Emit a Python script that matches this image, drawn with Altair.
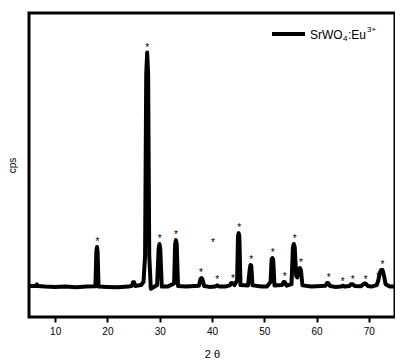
import altair as alt
import pandas as pd

two_theta = [5, 6.3, 6.5, 6.7, 8, 10, 12, 14, 16, 17.7,
             17.88, 18.0, 18.12, 18.3,
             20, 22, 24, 24.7, 24.9, 25.1, 25.3,
             26.4, 26.9, 27.2, 27.42, 27.6, 27.78, 28.0, 28.3, 28.8,
             29.5, 29.8, 29.95, 30.1, 30.4,
             31.5, 32.75, 32.95, 33.1, 33.25, 33.5,
             35, 37.5, 37.8, 38.0, 38.2, 38.5,
             39.5, 40.6, 41.0, 41.4, 42.5, 43.4, 43.7, 43.9, 44.3,
             44.8, 44.97, 45.1, 45.23, 45.45,
             46.9, 47.2, 47.35, 47.5, 47.75,
             49.5, 50.5, 51.2, 51.4, 51.55, 51.7, 51.95,
             53.4, 53.7, 53.9, 54.3,
             55.2, 55.48, 55.65, 55.82, 56.1, 56.3, 56.6, 56.8, 57.0, 57.3,
             59, 61.7, 62.0, 62.2, 62.6, 63.5, 64.7, 65.0, 65.4,
             66.3, 66.6, 66.9, 67.3, 68.5, 69.1, 69.4, 69.8, 70.5,
             71.5, 71.8, 72.1, 72.35, 72.6, 72.85, 73.2, 74, 75]
intensity = [10.2, 10.2, 10.7, 10.2, 10.0, 9.9, 10.0, 9.8, 10.0, 10.1,
             21.5, 23.0, 21.5, 10.0,
             9.9, 9.8, 10.0, 10.3, 11.4, 11.4, 10.2,
             10.5, 11.5, 20.0, 80.0, 87.0, 80.0, 20.0, 9.3, 9.8,
             10.5, 22.5, 24.0, 22.5, 10.0,
             10.0, 11.0, 24.0, 25.3, 24.0, 10.2,
             10.0, 10.3, 12.5, 12.8, 12.3, 10.2,
             9.9, 10.0, 10.4, 10.0, 10.0, 10.4, 11.2, 11.2, 10.5,
             12.0, 26.5, 27.6, 26.5, 10.5,
             10.4, 15.5, 17.1, 17.0, 10.4,
             10.0, 10.0, 11.5, 19.0, 19.4, 19.0, 10.4,
             10.5, 11.5, 11.5, 10.3,
             10.8, 23.0, 24.0, 23.0, 13.5, 13.0, 15.5, 16.1, 15.5, 10.4,
             10.0, 10.3, 11.2, 11.2, 10.2, 9.9, 10.0, 10.3, 10.0,
             10.2, 10.8, 10.8, 10.2, 10.1, 11.0, 11.0, 10.2, 10.0,
             10.5, 12.0, 14.5, 15.5, 15.5, 14.0, 10.8, 10.0, 10.0]

star_x = [18.1, 27.6, 30.0, 33.1, 40.2, 37.9, 41.0, 44.0, 45.2, 47.5, 51.6, 53.9, 55.8, 57.0, 62.3, 65.0, 66.9, 69.4, 71.8, 72.6]
star_y = [24.6, 88.6, 25.6, 26.9, 24.3, 14.4, 12.3, 12.6, 29.2, 18.7, 21.0, 13.1, 25.6, 17.7, 12.8, 11.4, 12.2, 12.2, 13.1, 17.1]

legend_parts = ["SrWO", "4", ":Eu", "3+"]

df = pd.DataFrame({"t": two_theta, "i": intensity})
stars = pd.DataFrame({"t": star_x, "i": star_y})

W, H = 366, 304
FONT = "Liberation Sans"
xs = alt.Scale(domain=[5, 75], nice=False, zero=False)
ys = alt.Scale(domain=[0, 100], nice=False, zero=False)

line = alt.Chart(df).mark_line(color="black", strokeWidth=4, strokeJoin="round", strokeCap="round", clip=True).encode(
    x=alt.X("t:Q", scale=xs, title="2 θ",
            axis=alt.Axis(values=[10, 20, 30, 40, 50, 60, 70], domain=False, tickSize=5, tickWidth=2,
                          tickColor="black", labelFontSize=10, labelColor="black", labelFont=FONT,
                          titleFont=FONT, titleFontSize=11, titleFontWeight="normal",
                          titleColor="black", grid=False, labelPadding=4, titlePadding=12)),
    y=alt.Y("i:Q", scale=ys, title="cps",
            axis=alt.Axis(labels=False, ticks=False, domain=False, grid=False,
                          titleFont=FONT, titleFontSize=10, titleFontWeight="normal",
                          titleColor="black", titlePadding=12)),
)

star = alt.Chart(stars).mark_text(text="*", fontSize=10, font=FONT, color="black", baseline="middle").encode(
    x=alt.X("t:Q", scale=xs), y=alt.Y("i:Q", scale=ys)
)

one = pd.DataFrame({"a": [0]})
leg_line = alt.Chart(one).mark_rule(color="black", strokeWidth=4).encode(
    x=alt.value(243), x2=alt.value(276), y=alt.value(21)
)


def txt(s, x, y, size):
    return alt.Chart(one).mark_text(text=s, fontSize=size, font=FONT, color="black",
                                    align="left", baseline="middle").encode(x=alt.value(x), y=alt.value(y))


leg = [txt(legend_parts[0], 281, 22, 12), txt(legend_parts[1], 314, 26, 8),
       txt(legend_parts[2], 319, 22, 12), txt(legend_parts[3], 338, 17, 8)]

chart = alt.layer(line, star, leg_line, *leg).properties(
    width=W, height=H, autosize=alt.AutoSizeParams(type="none"),
    padding={"left": 21, "top": 5, "right": 0, "bottom": 43}, background="white"
).configure_view(stroke="black", strokeWidth=3)

chart.save("out.html", embed_options={"renderer": "svg", "actions": False})
